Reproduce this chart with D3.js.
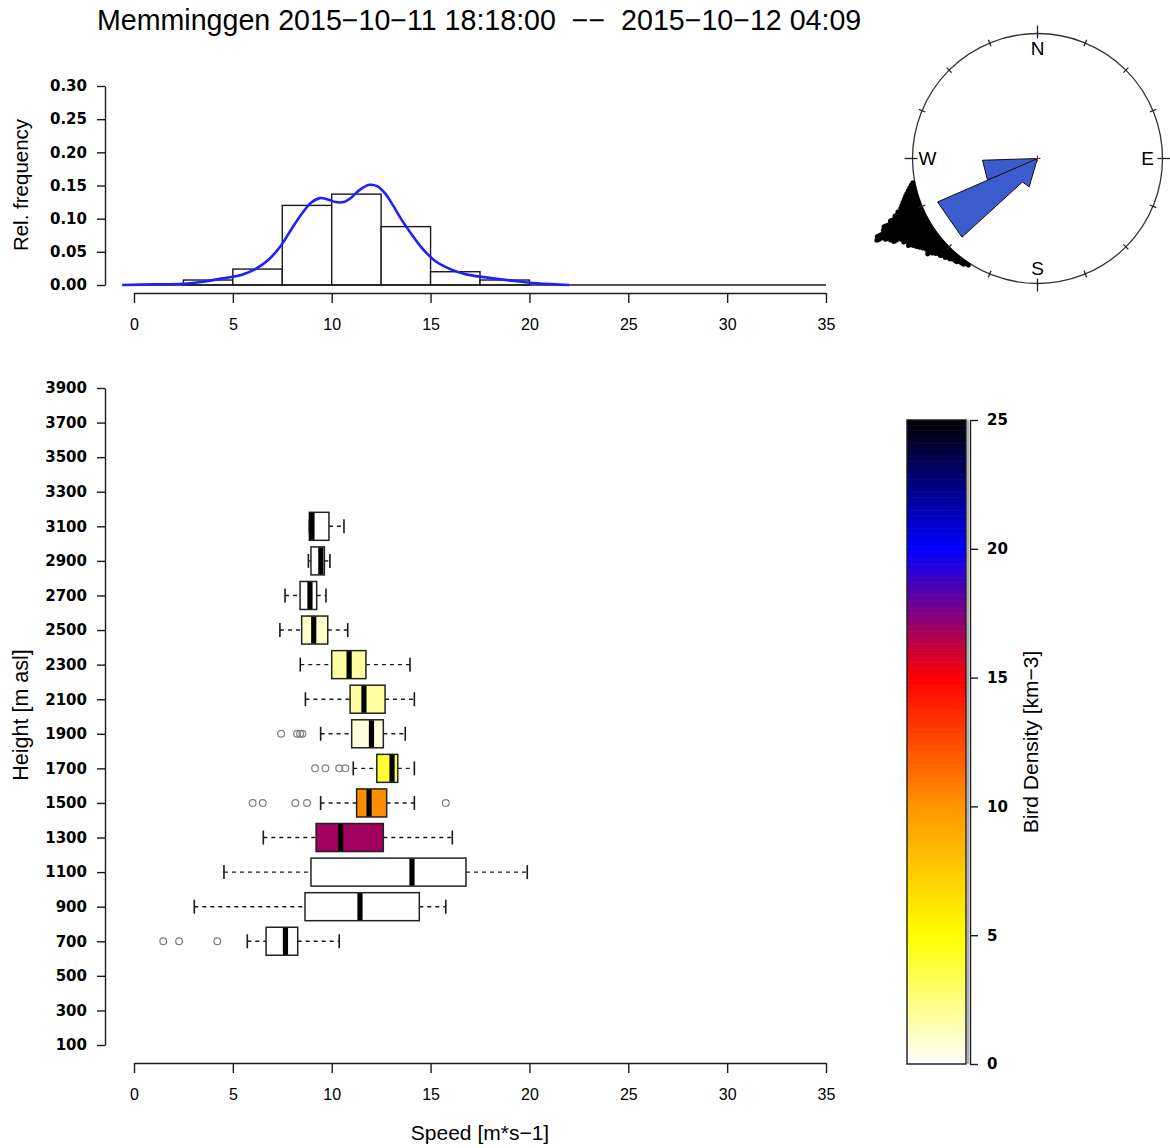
<!DOCTYPE html>
<html>
<head>
<meta charset="utf-8">
<script src="https://cdnjs.cloudflare.com/ajax/libs/d3/7.8.5/d3.min.js"></script>
<style>
  html, body { margin: 0; padding: 0; background: #fff; }
  svg { display: block; }
  .lbl { font-family: "Liberation Sans", Arial, Helvetica, sans-serif; fill: #000; }
  .tkw { font-family: "DejaVu Sans", Verdana, sans-serif; font-weight: bold; font-size: 15px; fill: #000; }
  .tkx { font-family: "Liberation Sans", Arial, Helvetica, sans-serif; font-size: 16px; fill: #000; }
</style>
</head>
<body>
<svg id="chart" width="1170" height="1148"></svg>
<script>
// ---------- speed histogram ----------
const histBinStart = [2.5, 5, 7.5, 10, 12.5, 15, 17.5];
const histFreq     = [0.0075, 0.024, 0.120, 0.137, 0.088, 0.020, 0.0075];
const histBinWidth = 2.5;

// kernel density of speeds
const densX = [-0.6, 1.0, 2.5, 3.5, 4.5, 5.5, 6.2, 6.8, 7.4, 8.0, 8.6, 9.0, 9.4, 9.8, 10.2, 10.6,
               11.0, 11.4, 11.9, 12.3, 12.7, 13.1, 13.5, 14.0, 14.5, 15.2, 16.0, 16.8, 17.8, 19.0, 20.4, 22.0];
const densY = [0, 0.001, 0.002, 0.005, 0.010, 0.016, 0.025, 0.038, 0.058, 0.086, 0.112, 0.125, 0.131, 0.129, 0.125, 0.125,
               0.132, 0.143, 0.151, 0.149, 0.138, 0.120, 0.100, 0.078, 0.058, 0.037, 0.024, 0.016, 0.0115, 0.007, 0.0025, 0];

const freqTicks  = [0, 0.05, 0.10, 0.15, 0.20, 0.25, 0.30];
const speedTicks = [0, 5, 10, 15, 20, 25, 30, 35];

// ---------- speed by height ----------
const heights  = [700, 900, 1100, 1300, 1500, 1700, 1900, 2100, 2300, 2500, 2700, 2900, 3100];
const whiskLo  = [5.73, 3.05, 4.55, 6.54, 9.44, 11.09, 9.44, 8.67, 8.41, 7.38, 7.64, 8.82, 8.87];
const q1       = [6.68, 8.65, 8.95, 9.21, 11.26, 12.28, 11.01, 10.93, 10.00, 8.48, 8.40, 8.95, 8.87];
const median   = [7.66, 11.43, 14.06, 10.45, 11.89, 13.05, 12.01, 11.63, 10.88, 9.09, 8.90, 9.45, 9.00];
const q3       = [8.28, 14.43, 16.79, 12.61, 12.78, 13.34, 12.61, 12.70, 11.73, 9.80, 9.24, 9.63, 9.86];
const whiskHi  = [10.38, 15.77, 19.89, 16.10, 14.18, 14.18, 13.72, 14.18, 13.96, 10.81, 9.71, 9.91, 10.62];
const birdDensity = [0, 0, 0, 16.85, 10.3, 4.0, 0.7, 1.85, 1.85, 1.0, 0, 0, 0];

const outlierHeight = [700, 700, 700, 1500, 1500, 1500, 1500, 1500, 1700, 1700, 1700, 1700, 1900, 1900, 1900, 1900];
const outlierSpeed  = [1.48, 2.28, 4.21, 6.0, 6.51, 8.16, 8.75, 15.77, 9.16, 9.68, 10.38, 10.69, 7.44, 8.25, 8.4, 8.52];

const heightTicks = [100, 300, 500, 700, 900, 1100, 1300, 1500, 1700, 1900, 2100, 2300, 2500,
                     2700, 2900, 3100, 3300, 3500, 3700, 3900];

// ---------- flight directions (1-degree bins, number of tracks) ----------
const dirBearing = [213, 214, 215, 216, 217, 218, 219, 220, 221, 222, 223, 224, 225, 226, 227, 228,
                    229, 230, 231, 232, 233, 234, 235, 236, 237, 238, 239, 240, 241, 242, 243, 244,
                    245, 246, 247, 248, 249, 250, 251, 252, 253, 254, 255, 256, 257, 258, 259];
const dirCount   = [1, 1, 2, 2, 2, 3, 3, 3, 4, 4, 5, 5, 6, 6, 7, 8,
                    10, 9, 9, 10, 11, 12, 13, 15, 14, 16, 16, 20, 21, 23, 27, 26,
                    22, 21, 17, 14, 12, 10, 9, 8, 7, 6, 5, 4, 3, 2, 1];
const compassLabels   = ["N", "E", "S", "W"];
const compassBearings = [0, 90, 180, 270];

// mean direction arrows (bearing of travel, length and width relative to radius)
const arrowBearing = [88.2, 66.5];
const arrowLength  = [0.44, 0.872];
const arrowWidth   = [0.156, 0.336];

// ---------- density colour bar ----------
const densityTicks  = [0, 5, 10, 15, 20, 25];
const densityStops  = [0, 5, 10, 15, 20, 25];
const densityColors = ["#ffffff", "#ffff00", "#ff9600", "#ff0000", "#0000ff", "#000000"];

const title = "Memminggen 2015\u221210\u221211 18:18:00  \u2212\u2212  2015\u221210\u221212 04:09";

// =====================================================
const svg = d3.select("#chart");
const AX = "#1a1a1a";

svg.append("text").attr("class", "lbl")
  .attr("x", 97).attr("y", 30)
  .attr("font-size", 28.6)
  .style("white-space", "pre")
  .text(title);

const x = d3.scaleLinear().domain([0, 35]).range([134, 826]);

// ---------- histogram panel ----------
const yH = d3.scaleLinear().domain([0, 0.30]).range([285, 86]);
const gH = svg.append("g");

gH.selectAll("rect.bar").data(histBinStart).join("rect")
  .attr("class", "bar")
  .attr("x", d => x(d))
  .attr("width", d => x(d + histBinWidth) - x(d))
  .attr("y", (d, i) => yH(histFreq[i]))
  .attr("height", (d, i) => yH(0) - yH(histFreq[i]))
  .attr("fill", "#fff").attr("stroke", AX).attr("stroke-width", 1.4);

gH.append("line")
  .attr("x1", x(0)).attr("x2", x(35)).attr("y1", yH(0)).attr("y2", yH(0))
  .attr("stroke", AX).attr("stroke-width", 1.4);

const densLine = d3.line().x(d => x(d[0])).y(d => yH(d[1])).curve(d3.curveCatmullRom);
gH.append("path")
  .attr("d", densLine(densX.map((v, i) => [v, densY[i]])))
  .attr("fill", "none").attr("stroke", "#1f1fff").attr("stroke-width", 2.6)
  .attr("stroke-linejoin", "round");

function styleAxis(g, cls) {
  g.select(".domain").attr("stroke", AX).attr("stroke-width", 1.4);
  g.selectAll(".tick line").attr("stroke", AX).attr("stroke-width", 1.4);
  g.selectAll(".tick text").attr("class", cls).attr("fill", "#000");
  g.attr("font-family", null).attr("font-size", null);
}

svg.append("g").attr("transform", "translate(105,0)")
  .call(d3.axisLeft(yH).tickValues(freqTicks).tickFormat(d3.format(".2f"))
        .tickSize(8).tickSizeOuter(0).tickPadding(10))
  .call(g => styleAxis(g, "tkw"));

svg.append("g").attr("transform", "translate(0,293)")
  .call(d3.axisBottom(x).tickValues(speedTicks).tickFormat(d3.format("d"))
        .tickSize(10).tickSizeOuter(0).tickPadding(16))
  .call(g => styleAxis(g, "tkx"));

svg.append("text").attr("class", "lbl")
  .attr("transform", "translate(28,185) rotate(-90)")
  .attr("text-anchor", "middle").attr("font-size", 20.5)
  .text("Rel. frequency");

// ---------- box plot panel ----------
const yB = d3.scaleLinear().domain([100, 3900]).range([1045, 388]);
const color = d3.scaleLinear().domain(densityStops).range(densityColors).interpolate(d3.interpolateRgb).clamp(true);
const boxH = 28, capH = 14;

const gB = svg.append("g");
const boxes = gB.selectAll("g.box").data(heights).join("g")
  .attr("class", "box")
  .attr("transform", d => `translate(0,${yB(d)})`);

// whiskers
boxes.append("line")
  .attr("x1", (d, i) => x(whiskLo[i])).attr("x2", (d, i) => x(q1[i]))
  .attr("stroke", AX).attr("stroke-width", 1.4).attr("stroke-dasharray", "4,4");
boxes.append("line")
  .attr("x1", (d, i) => x(q3[i])).attr("x2", (d, i) => x(whiskHi[i]))
  .attr("stroke", AX).attr("stroke-width", 1.4).attr("stroke-dasharray", "4,4");
boxes.append("line")
  .attr("x1", (d, i) => x(whiskLo[i])).attr("x2", (d, i) => x(whiskLo[i]))
  .attr("y1", -capH / 2).attr("y2", capH / 2)
  .attr("stroke", AX).attr("stroke-width", 1.6);
boxes.append("line")
  .attr("x1", (d, i) => x(whiskHi[i])).attr("x2", (d, i) => x(whiskHi[i]))
  .attr("y1", -capH / 2).attr("y2", capH / 2)
  .attr("stroke", AX).attr("stroke-width", 1.6);
// boxes
boxes.append("rect")
  .attr("x", (d, i) => x(q1[i])).attr("width", (d, i) => x(q3[i]) - x(q1[i]))
  .attr("y", -boxH / 2).attr("height", boxH)
  .attr("fill", (d, i) => color(birdDensity[i]))
  .attr("stroke", "#222").attr("stroke-width", 1.5);
// medians
boxes.append("rect")
  .attr("x", (d, i) => x(median[i]) - 2.6).attr("width", 5.2)
  .attr("y", -boxH / 2 + 0.5).attr("height", boxH - 1)
  .attr("fill", "#000");

// outliers
gB.selectAll("circle.out").data(outlierSpeed).join("circle")
  .attr("class", "out")
  .attr("cx", d => x(d)).attr("cy", (d, i) => yB(outlierHeight[i]))
  .attr("r", 3.4).attr("fill", "none").attr("stroke", "#808080").attr("stroke-width", 1.2);

svg.append("g").attr("transform", "translate(105,0)")
  .call(d3.axisLeft(yB).tickValues(heightTicks).tickFormat(d3.format("d"))
        .tickSize(8).tickSizeOuter(0).tickPadding(10))
  .call(g => styleAxis(g, "tkw"));

svg.append("g").attr("transform", "translate(0,1063)")
  .call(d3.axisBottom(x).tickValues(speedTicks).tickFormat(d3.format("d"))
        .tickSize(10).tickSizeOuter(0).tickPadding(16))
  .call(g => styleAxis(g, "tkx"));

svg.append("text").attr("class", "lbl")
  .attr("transform", "translate(28,715) rotate(-90)")
  .attr("text-anchor", "middle").attr("font-size", 21.5)
  .text("Height [m asl]");

svg.append("text").attr("class", "lbl")
  .attr("x", 480).attr("y", 1140)
  .attr("text-anchor", "middle").attr("font-size", 21)
  .text("Speed [m*s\u22121]");

// ---------- colour bar ----------
const yC = d3.scaleLinear().domain([0, 25]).range([1064, 420]);
const gC = svg.append("g");
const strips = d3.range(0, 25, 0.1);
gC.selectAll("rect.strip").data(strips).join("rect")
  .attr("class", "strip")
  .attr("x", 907).attr("width", 59)
  .attr("y", d => yC(d + 0.1))
  .attr("height", d => yC(d) - yC(d + 0.1) + 0.6)
  .attr("fill", d => color(d + 0.05));
gC.append("rect")
  .attr("x", 907).attr("y", yC(25)).attr("width", 59).attr("height", yC(0) - yC(25))
  .attr("fill", "none").attr("stroke", AX).attr("stroke-width", 1.4);
gC.append("line")
  .attr("x1", 968).attr("x2", 968).attr("y1", yC(25)).attr("y2", yC(0))
  .attr("stroke", "#b0b0b0").attr("stroke-width", 2);

svg.append("g").attr("transform", "translate(970,0)")
  .call(d3.axisRight(yC).tickValues(densityTicks).tickFormat(d3.format("d"))
        .tickSize(8).tickSizeOuter(0).tickPadding(9))
  .call(g => styleAxis(g, "tkw"));

svg.append("text").attr("class", "lbl")
  .attr("transform", "translate(1038,742) rotate(-90)")
  .attr("text-anchor", "middle").attr("font-size", 21)
  .text("Bird Density [km\u22123]");

// ---------- direction rose ----------
const cx = 1037.5, cy = 158.5;
const rr = d3.scaleLinear().domain([0, 1]).range([0, 125]);
const rad = b => b * Math.PI / 180;
const gR = svg.append("g").attr("transform", `translate(${cx},${cy})`);

gR.append("circle").attr("r", rr(1)).attr("fill", "none")
  .attr("stroke", "#333").attr("stroke-width", 1.3);

// stacked individual directions outside the circle
const dotR = 2.5, dotStep = 2.05;
const dots = [];
dirBearing.forEach((b, i) => {
  for (let k = 0; k < dirCount[i]; k++) dots.push([b, rr(1) + dotR - 0.5 + k * dotStep]);
});
gR.selectAll("circle.dir").data(dots).join("circle")
  .attr("class", "dir")
  .attr("cx", d => d3.pointRadial(rad(d[0]), d[1])[0])
  .attr("cy", d => d3.pointRadial(rad(d[0]), d[1])[1])
  .attr("r", dotR).attr("fill", "#000");

// direction ticks
const tickBearings = d3.range(0, 360, 22.5);
gR.selectAll("line.tk").data(tickBearings).join("line")
  .attr("class", "tk")
  .each(function (b) {
    const major = b % 90 === 0;
    const p0 = d3.pointRadial(rad(b), rr(1) - (major ? 5 : 3.5));
    const p1 = d3.pointRadial(rad(b), rr(1) + (major ? 8 : 3.5));
    d3.select(this).attr("x1", p0[0]).attr("y1", p0[1]).attr("x2", p1[0]).attr("y2", p1[1]);
  })
  .attr("stroke", "#222").attr("stroke-width", 1.3);

gR.selectAll("text.cmp").data(compassLabels).join("text")
  .attr("class", "lbl cmp")
  .attr("x", (d, i) => d3.pointRadial(rad(compassBearings[i]), 110)[0])
  .attr("y", (d, i) => d3.pointRadial(rad(compassBearings[i]), 110)[1])
  .attr("text-anchor", "middle").attr("dy", "0.36em")
  .attr("font-size", 19)
  .text(d => d);

// mean direction arrows: tip at the centre, spine along one edge, one-sided barb
const arrowShape = [[0, 0], [1, 0], [0.826, 0.54], [0.788, 0.37], [0.077, 1.0]];
function arrowPath(b, L, Wd) {
  const dx = Math.sin(rad(b)), dy = -Math.cos(rad(b));
  const nx = -dy, ny = dx;
  const len = rr(L), wid = rr(Wd);
  const tx = -len * dx, ty = -len * dy;
  const pts = arrowShape.map(([a, p]) => [tx + a * len * dx + p * wid * nx, ty + a * len * dy + p * wid * ny]);
  return d3.line()(pts) + "Z";
}
gR.selectAll("path.arrow").data(arrowBearing).join("path")
  .attr("class", "arrow")
  .attr("d", (b, i) => arrowPath(b, arrowLength[i], arrowWidth[i]))
  .attr("fill", "#3a5ccc").attr("stroke", "#111").attr("stroke-width", 1)
  .attr("stroke-linejoin", "miter");

// centre mark
gR.append("path").attr("d", "M-3,0H3M0,-3V3").attr("stroke", "#8b1a1a").attr("stroke-width", 1);
</script>
</body>
</html>
